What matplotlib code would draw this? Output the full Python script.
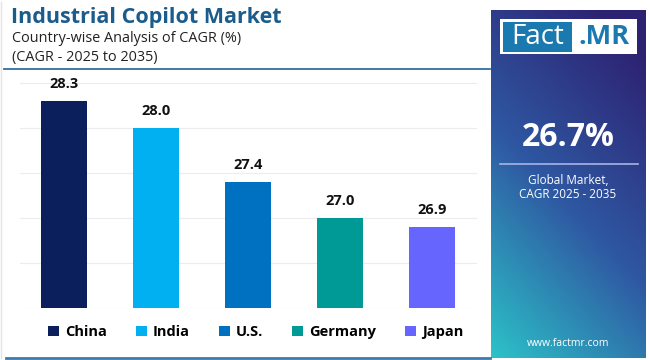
import numpy as np
import matplotlib.pyplot as plt
from matplotlib.patches import Rectangle
from matplotlib.colors import LinearSegmentedColormap

# data
countries = ['China', 'India', 'U.S.', 'Germany', 'Japan']
cagr = [28.3, 28.0, 27.4, 27.0, 26.9]
colors = ['#0b1f5c', '#00b0f0', '#0070c0', '#009a96', '#6666ff']
global_cagr = '26.7%'

W, H = 650, 360
plt.rcParams['font.family'] = ['Open Sans', 'DejaVu Sans']

fig = plt.figure(figsize=(6.5, 3.6), dpi=100)
fig.patch.set_facecolor('white')


def fx(x):
    return x / W


def fy(y):
    return 1 - y / H


# title block
fig.text(fx(11), fy(17), 'Industrial Copilot Market', fontsize=15.5, fontweight='bold',
         color='#1a5c8c', va='center', ha='left')
fig.text(fx(12), fy(38), 'Country-wise Analysis of CAGR (%)', fontsize=10.4,
         color='#222222', va='center', ha='left')
fig.text(fx(12), fy(57), '(CAGR - 2025 to 2035)', fontsize=10.4,
         color='#222222', va='center', ha='left')
fig.add_artist(plt.Line2D([fx(4), fx(490)], [fy(69), fy(69)], color='#2f6f9f', lw=1.3))
fig.add_artist(plt.Line2D([fx(6), fx(490)], [fy(358), fy(358)], color='#3b7bb0', lw=2))
fig.add_artist(plt.Line2D([fx(1), fx(1)], [fy(2), fy(358)], color='#e4e4e4', lw=1))

# bar chart
ax = fig.add_axes([fx(20), fy(308), fx(477) - fx(20), fy(80) - fy(308)])
x = np.arange(len(countries))
bars = ax.bar(x, cagr, width=0.5, color=colors, zorder=3)
ax.set_ylim(26.0, 28.533)
ax.set_xlim(-0.478, 4.49)
ax.set_yticks(np.arange(26.0, 28.51, 0.5))
ax.yaxis.grid(True, color='#ececf0', lw=0.8, zorder=0)
ax.set_xticks([])
ax.tick_params(left=False, labelleft=False)
for s in ax.spines.values():
    s.set_visible(False)
for b, v in zip(bars, cagr):
    ax.annotate(f'{v:.1f}', (b.get_x() + b.get_width() / 2, v), xytext=(0, 7),
                textcoords='offset points', ha='center', va='bottom',
                fontsize=10.5, fontweight='bold', color='#111111', clip_on=False)

leg = fig.legend(bars, countries, loc='center', bbox_to_anchor=(fx(256), fy(332)),
                 ncol=5, frameon=False, handlelength=0.75, handleheight=0.75,
                 handletextpad=0.4, columnspacing=2.0, prop={'weight': 'bold', 'size': 10.5})

# right panel with gradient
pax = fig.add_axes([fx(491), fy(358), fx(646) - fx(491), fy(10) - fy(358)])
cmap = LinearSegmentedColormap.from_list('fm', ['#2d2272', '#2f58a2', '#2cc2c8'])
gy, gx = np.mgrid[0:1:200j, 0:1:100j]
t = 0.75 * gy + 0.35 * (1 - gx) - 0.1
pax.imshow(np.clip(t, 0, 1), cmap=cmap, aspect='auto', extent=[0, 1, 1, 0], vmin=0, vmax=1)
pax.set_axis_off()

# logo
fig.add_artist(Rectangle((fx(500), fy(54)), fx(637) - fx(500), fy(19) - fy(54),
                         transform=fig.transFigure, facecolor='white', edgecolor='none'))
fig.add_artist(Rectangle((fx(503), fy(51.5)), fx(572) - fx(503), fy(21.5) - fy(51.5),
                         transform=fig.transFigure, facecolor='#1a7ab0', edgecolor='none'))
fig.text(fx(537.5), fy(37), 'Fact', fontsize=20, color='white', ha='center', va='center')
fig.text(fx(604), fy(37), '.MR', fontsize=19.5, fontweight='bold', color='#1a7ab0',
         ha='center', va='center')

fig.text(fx(568), fy(137), global_cagr, fontsize=23, fontweight='bold', color='white',
         ha='center', va='center')
fig.add_artist(plt.Line2D([fx(500), fx(638)], [fy(164), fy(164)], color='#a8b4e6', lw=1.2))
fig.text(fx(568), fy(180), 'Global Market,', fontsize=8.5, color='white', ha='center', va='center')
fig.text(fx(568), fy(195), 'CAGR 2025 - 2035', fontsize=8.5, color='white', ha='center', va='center')
fig.text(fx(568), fy(344), 'www.factmr.com', fontsize=7.5, color='white', ha='center', va='center')

fig.savefig('out.png', dpi=100, facecolor='white')
